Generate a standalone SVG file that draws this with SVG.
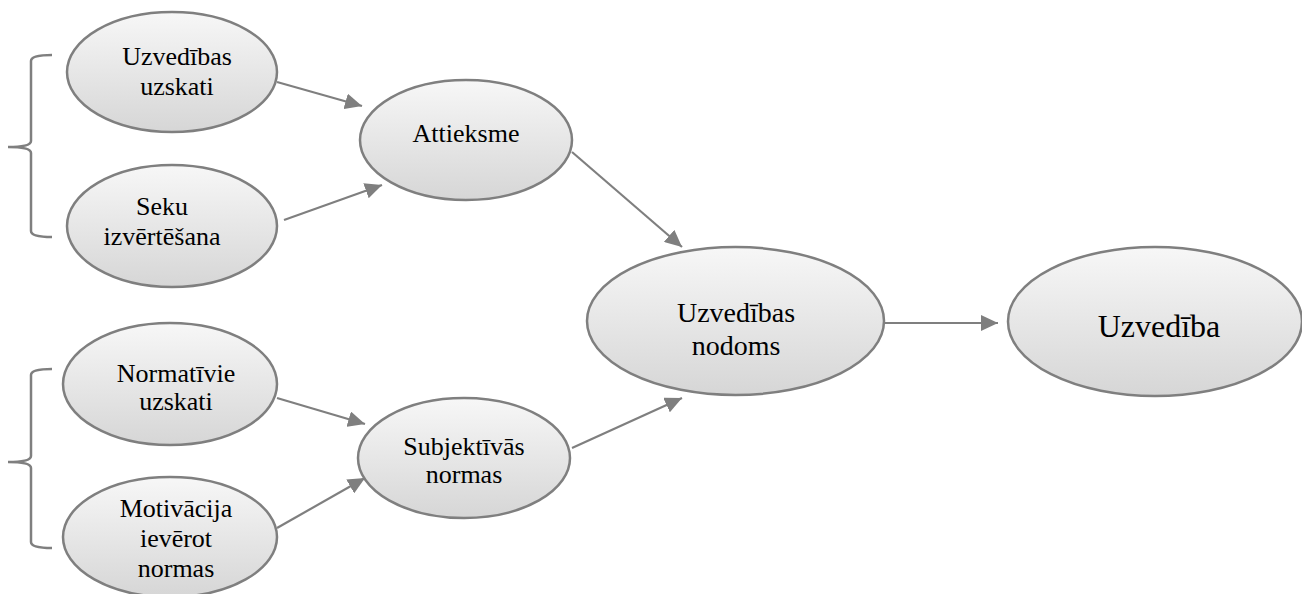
<svg xmlns="http://www.w3.org/2000/svg" width="1302" height="594" viewBox="0 0 1302 594">
<style>
.node ellipse{fill:url(#g);stroke:#7f7f7f;stroke-width:2.5}
.edge{stroke:#7f7f7f;stroke-width:2.2;fill:none;marker-end:url(#ah)}
.brace{stroke:#7f7f7f;stroke-width:2.5;fill:none}
</style>
<defs>
<linearGradient id="g" x1="0" y1="0" x2="0" y2="1">
<stop offset="0" stop-color="#f7f7f7"/>
<stop offset="1" stop-color="#d6d6d6"/>
</linearGradient>
<marker id="ah" markerUnits="userSpaceOnUse" markerWidth="18" markerHeight="16" viewBox="0 0 18 16" refX="17" refY="8" orient="auto">
<path d="M0,0 L17,8 L0,16 Z" fill="#7f7f7f"/>
</marker>
</defs>
<rect width="1302" height="594" fill="#fff"/>
<g id="braces">
<path class="brace" d="M52,55 Q31,55 31,61 V141 Q31,147 8,147 Q31,147 31,153 V231 Q31,237 52,237"/>
<path class="brace" d="M52,369 Q31,369 31,375 V456 Q31,462 8,462 Q31,462 31,468 V542 Q31,548 52,548"/>
</g>
<g id="connectors">
<line class="edge" x1="277" y1="82" x2="362" y2="106"/>
<line class="edge" x1="284" y1="220" x2="382" y2="185"/>
<line class="edge" x1="572" y1="152" x2="682" y2="247"/>
<line class="edge" x1="277" y1="398" x2="365" y2="424"/>
<line class="edge" x1="277" y1="528" x2="365" y2="478"/>
<line class="edge" x1="572" y1="448" x2="682" y2="398"/>
<line class="edge" x1="884" y1="323" x2="998" y2="323"/>
</g>
<g font-family="'Liberation Serif', 'Times New Roman', serif" font-size="26" fill="#000" text-anchor="middle">
<g id="n1" class="node">
<ellipse cx="172" cy="72" rx="105" ry="60"/>
<text x="177" y="65">Uzvedības</text>
<text x="177" y="95">uzskati</text>
</g>
<g id="n2" class="node">
<ellipse cx="172" cy="226" rx="105" ry="61"/>
<text x="162" y="215">Seku</text>
<text x="162" y="245">izvērtēšana</text>
</g>
<g id="n3" class="node">
<ellipse cx="170" cy="384" rx="107" ry="61"/>
<text x="176" y="382">Normatīvie</text>
<text x="176" y="410">uzskati</text>
</g>
<g id="n4" class="node">
<ellipse cx="170" cy="537" rx="107" ry="60"/>
<text x="176" y="517">Motivācija</text>
<text x="176" y="547">ievērot</text>
<text x="176" y="577">normas</text>
</g>
<g id="n5" class="node">
<ellipse cx="466" cy="140" rx="106" ry="60"/>
<text x="466" y="142">Attieksme</text>
</g>
<g id="n6" class="node">
<ellipse cx="464" cy="458" rx="106" ry="60"/>
<text x="464" y="455">Subjektīvās</text>
<text x="464" y="483">normas</text>
</g>
<g id="n7" class="node" font-size="28">
<ellipse cx="735.5" cy="321" rx="148.5" ry="74"/>
<text x="736" y="322">Uzvedības</text>
<text x="736" y="355">nodoms</text>
</g>
<g id="n8" class="node" font-size="32">
<ellipse cx="1155" cy="321.5" rx="147" ry="74.5"/>
<text x="1159" y="337">Uzvedība</text>
</g>
</g>
</svg>
